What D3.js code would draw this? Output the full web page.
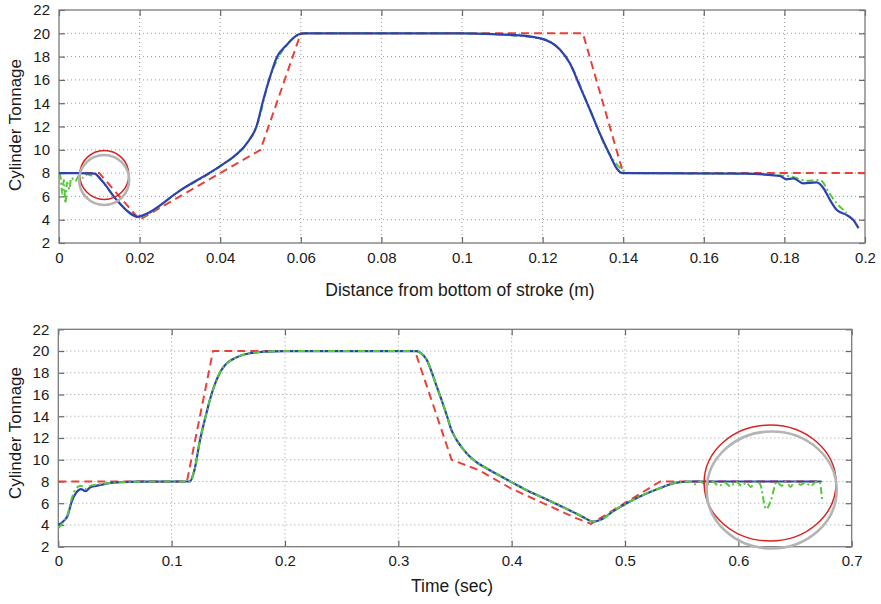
<!DOCTYPE html>
<html><head><meta charset="utf-8">
<script src="https://cdn.jsdelivr.net/npm/d3@7"></script>
<style>
body{margin:0;background:#fff;}
svg{display:block;font-family:"Liberation Sans",Arial,sans-serif;}
</style></head><body>
<svg id="c" width="881" height="604"></svg>
<script>
// ---------- data ----------
const yTicks = [2,4,6,8,10,12,14,16,18,20,22];
const xTicksTop = [0,0.02,0.04,0.06,0.08,0.1,0.12,0.14,0.16,0.18,0.2];
const xTicksBottom = [0,0.1,0.2,0.3,0.4,0.5,0.6,0.7];
const yLabel = "Cylinder Tonnage";
const xLabelTop = "Distance from bottom of stroke (m)";
const xLabelBottom = "Time (sec)";

// top chart: distance (m) vs tonnage
const topRed = [[0,8],[0.01,8],[0.02,4],[0.05,10],[0.06,20],[0.13,20],[0.14,8],[0.2,8]];
const topBlue = [[0,8],[0.005,8],[0.0088,7.95],[0.0105,7.4],[0.0143,5.7],[0.0175,4.6],[0.0195,4.25],[0.021,4.4],
  [0.03,6.5],[0.04,8.6],[0.0433,9.4],[0.0466,10.56],[0.049,12.0],[0.0507,14.3],[0.0524,16.3],[0.054,17.9],
  [0.0565,19.0],[0.0594,19.9],[0.061,20],[0.1,20],[0.1127,19.85],[0.1194,19.57],[0.1243,18.6],[0.1268,17.4],
  [0.1293,15.4],[0.1318,13.4],[0.1342,11.4],[0.1367,9.55],[0.1384,8.4],[0.1396,8.02],[0.142,8],[0.17,7.95],
  [0.1789,7.75],[0.1805,7.47],[0.1822,7.55],[0.1847,7.12],[0.188,7.2],[0.1897,6.7],[0.1913,5.7],[0.193,4.83],
  [0.1955,4.4],[0.1971,3.97],[0.1984,3.26]];
const topGreen = [[0,8],[0.0004,7.6],[0.0008,6.2],[0.0012,7.4],[0.0016,5.4],[0.002,7.2],[0.0026,6.6],[0.003,7.6],
  [0.004,7.3],[0.005,7.8],[0.006,7.6],[0.007,7.9],[0.008,7.8],[0.009,7.95],[0.0105,7.4],[0.0143,5.7],[0.0195,4.25],
  [0.03,6.5],[0.04,8.6],[0.0466,10.56],[0.049,12.0],[0.0524,16.3],[0.0565,19.0],[0.061,20],[0.1,20],[0.1194,19.57],
  [0.1268,17.4],[0.1318,13.4],[0.1367,9.55],[0.142,8],[0.17,7.95],[0.1789,7.8],[0.182,7.69],[0.1855,7.35],
  [0.1888,7.4],[0.1913,6.2],[0.193,5.4],[0.1955,4.6]];

// bottom chart: time (s) vs tonnage
const botRed = [[0,8],[0.1135,8],[0.1365,20],[0.3147,20],[0.347,10],[0.372,9.0],[0.3986,7.4],[0.431,5.85],
  [0.4574,4.6],[0.47,4.1],[0.531,8],[0.6735,8]];
const botBlue = [[0,4.0],[0.004,4.3],[0.008,4.8],[0.012,6.2],[0.016,7.0],[0.02,7.3],[0.024,7.1],[0.028,7.45],
  [0.033,7.6],[0.038,7.7],[0.045,7.85],[0.055,7.93],[0.07,7.98],[0.116,8],[0.12,9.0],[0.125,11.8],[0.13,14.0],
  [0.134,15.6],[0.138,16.9],[0.143,18.1],[0.148,18.8],[0.154,19.25],[0.16,19.55],[0.169,19.8],[0.184,19.95],
  [0.2,20],[0.316,20],[0.32,19.8],[0.325,19.2],[0.33,17.9],[0.334,16.7],[0.3385,15.4],[0.343,14.0],[0.347,12.7],
  [0.3515,11.8],[0.357,11.0],[0.363,10.3],[0.37,9.7],[0.378,9.2],[0.39,8.5],[0.4015,7.85],[0.415,7.1],[0.431,6.35],
  [0.445,5.65],[0.46,4.9],[0.466,4.55],[0.472,4.3],[0.478,4.45],[0.49,5.3],[0.5015,6.0],[0.515,6.7],[0.531,7.4],
  [0.5456,7.9],[0.56,8],[0.6735,8]];
const botGreen = [[0,3.7],[0.004,4.2],[0.008,4.9],[0.012,6.5],[0.016,7.4],[0.02,7.6],[0.024,7.3],[0.028,7.6],
  [0.033,7.7],[0.04,7.8],[0.05,7.9],[0.07,7.98],[0.116,8],[0.12,9.0],[0.125,11.8],[0.13,14.0],[0.134,15.6],
  [0.138,16.9],[0.143,18.1],[0.148,18.8],[0.154,19.25],[0.16,19.55],[0.169,19.8],[0.184,19.95],[0.2,20],[0.316,20],
  [0.32,19.8],[0.325,19.2],[0.33,17.9],[0.334,16.7],[0.3385,15.4],[0.343,14.0],[0.347,12.7],[0.3515,11.8],
  [0.357,11.0],[0.363,10.3],[0.37,9.7],[0.378,9.2],[0.39,8.5],[0.4015,7.85],[0.415,7.1],[0.431,6.35],[0.445,5.65],
  [0.46,4.9],[0.466,4.55],[0.472,4.3],[0.478,4.45],[0.49,5.3],[0.5015,6.0],[0.515,6.7],[0.531,7.4],[0.5456,7.9],
  [0.557,8],[0.562,7.75],[0.566,8],[0.572,7.7],[0.577,8],[0.583,7.6],[0.588,7.9],[0.593,7.55],[0.598,8],[0.603,7.6],
  [0.607,7.9],[0.611,7.5],[0.615,8],[0.619,7.8],[0.6245,5.45],[0.6285,6.2],[0.634,8],[0.638,7.6],[0.642,8],
  [0.646,7.5],[0.65,8],[0.655,7.7],[0.659,7.9],[0.664,7.6],[0.669,8],[0.6715,8],[0.674,6.2]];

// annotation rings (centres in data units)
const topRings = [{x:0.01124,y:7.84,rx:24.5,ry:24.5,kind:"red"},{x:0.0112,y:7.41,rx:25,ry:25,kind:"gray"}];
const botRings = [{x:0.628,y:7.86,rx:66,ry:58,kind:"red"},{x:0.6294,y:7.22,rx:65,ry:58.5,kind:"gray"}];

// ---------- drawing ----------
const svg = d3.select("#c");
const C = {red:"#e8413a", blue:"#2f40b0", green:"#56c93a"};

function panel(o){
  const x = d3.scaleLinear().domain([o.xTicks[0], o.xTicks[o.xTicks.length-1]]).range([o.left,o.right]);
  const y = d3.scaleLinear().domain([2,22]).range([o.bottom,o.top]);
  const g = svg.append("g");
  // grid
  g.append("g").selectAll("line").data(o.xTicks.slice(1,-1)).join("line")
    .attr("x1",d=>x(d)).attr("x2",d=>x(d)).attr("y1",o.top).attr("y2",o.bottom)
    .attr("stroke","#9a9a9a").attr("stroke-width",1).attr("stroke-dasharray","1,3");
  g.append("g").selectAll("line").data(yTicks.slice(1,-1)).join("line")
    .attr("y1",d=>y(d)).attr("y2",d=>y(d)).attr("x1",o.left).attr("x2",o.right)
    .attr("stroke","#9a9a9a").attr("stroke-width",1).attr("stroke-dasharray","1,3");
  // axes with inward ticks
  const fmt = d=>String(+d.toFixed(2));
  const ax = [
    d3.axisBottom(x).tickValues(o.xTicks).tickSize(-6).tickPadding(9).tickFormat(fmt),
    d3.axisTop(x).tickValues(o.xTicks).tickSize(-6).tickFormat(""),
    d3.axisLeft(y).tickValues(yTicks).tickSize(-6).tickPadding(9).tickFormat(d3.format("d")),
    d3.axisRight(y).tickValues(yTicks).tickSize(-6).tickFormat("")
  ];
  const tr = [`translate(0,${o.bottom})`,`translate(0,${o.top})`,`translate(${o.left},0)`,`translate(${o.right},0)`];
  ax.forEach((a,i)=>{
    const ag = g.append("g").attr("transform",tr[i]).call(a);
    ag.select(".domain").remove();
    ag.selectAll(".tick line").attr("stroke","#666").attr("stroke-width",1.2);
    ag.selectAll("text").attr("font-size",15).attr("fill","#1a1a1a")
      .attr("font-family",'"Liberation Sans",Arial,sans-serif');
  });
  // frame
  g.append("rect").attr("x",o.left).attr("y",o.top).attr("width",o.right-o.left).attr("height",o.bottom-o.top)
    .attr("fill","none").attr("stroke","#7a7a7a").attr("stroke-width",1.3);
  // series
  const lineLin = d3.line().x(d=>x(d[0])).y(d=>y(d[1]));
  const lineSm = d3.line().x(d=>x(d[0])).y(d=>y(d[1])).curve(d3.curveMonotoneX);
  const styles = {
    red:{stroke:C.red,w:2,dash:"8,5",gen:lineLin},
    blue:{stroke:C.blue,w:2.2,dash:null,gen:lineSm},
    green:{stroke:C.green,w:2,dash:"7,3,2,3",gen:lineSm}
  };
  o.series.forEach(s=>{
    const st = styles[s.kind];
    g.append("path").datum(s.data).attr("d",st.gen).attr("fill","none")
      .attr("stroke",st.stroke).attr("stroke-width",st.w).attr("stroke-dasharray",st.dash)
      .attr("stroke-linejoin","round");
  });
  // rings
  g.append("g").selectAll("ellipse").data(o.rings).join("ellipse")
    .attr("cx",d=>x(d.x)).attr("cy",d=>y(d.y)).attr("rx",d=>d.rx).attr("ry",d=>d.ry)
    .attr("fill","none")
    .attr("stroke",d=>d.kind==="red"?"#d8231f":"#b4b4b4")
    .attr("stroke-width",d=>d.kind==="red"?1.5:2.6);
  // labels
  g.append("text").attr("transform",`translate(21,${o.ylabY}) rotate(-90)`).attr("text-anchor","middle")
    .attr("font-size",17).attr("fill","#1a1a1a").text(yLabel);
  g.append("text").attr("x",o.xlabX).attr("y",o.xlabY).attr("text-anchor","middle")
    .attr("font-size",17.5).attr("fill","#1a1a1a").text(o.xLabel);
}

panel({left:59,right:865,top:10,bottom:243,xTicks:xTicksTop,xLabel:xLabelTop,xlabX:460,xlabY:296,ylabY:125,
  rings:topRings,
  series:[{kind:"red",data:topRed},{kind:"green",data:topGreen},{kind:"blue",data:topBlue}]});
panel({left:58.3,right:851.7,top:329.3,bottom:546.7,xTicks:xTicksBottom,xLabel:xLabelBottom,xlabX:452,xlabY:592,ylabY:433,
  rings:botRings,
  series:[{kind:"red",data:botRed},{kind:"blue",data:botBlue},{kind:"green",data:botGreen}]});
</script>
</body></html>
